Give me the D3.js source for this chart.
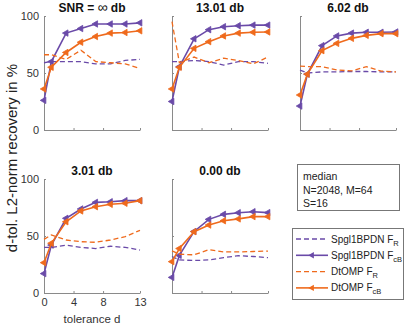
<!DOCTYPE html>
<html><head><meta charset="utf-8">
<script src="https://cdn.jsdelivr.net/npm/d3@7"></script>
<style>body{margin:0;background:#fff}svg{display:block;font-family:"Liberation Sans",Arial,sans-serif}</style>
</head><body><svg id="c" width="407" height="327"></svg>
<script>
const dVals = [0, 1, 3, 5, 7, 9, 11, 13];
const panelTitles = ["SNR = \u221E db", "13.01 db", "6.02 db", "3.01 db", "0.00 db"];
const yTicks = [0, 50, 100];
const xTicks = [0, 4, 8, 13];
// per panel series
const spglFR = [
  [59, 60, 60, 60, 58, 58, 61, 62],
  [60, 60, 61, 60, 57, 60, 60, 58.5],
  [52.6, 50, 51, 51, 51.3, 51.3, 51, 51],
  [40, 40, 42, 40, 39, 41, 40, 37.7],
  [32, 29, 28.5, 29, 31, 32.7, 32, 31]
];
const spglFcB = [
  [26, 60, 85, 89, 93, 93, 93, 94],
  [25, 55.5, 80, 88, 90.6, 91.5, 92, 92],
  [21, 49, 74, 82.5, 85, 85.7, 85.7, 86],
  [17, 42, 65.5, 73.7, 79.5, 80, 81, 81],
  [13.7, 33, 54, 64.6, 69, 70.4, 71.3, 70.5]
];
const ompFR = [
  [66, 66, 62, 70, 60, 59, 58, 54],
  [95, 59, 64, 59, 63, 61, 58, 64],
  [56, 55.6, 55.6, 52.6, 51.8, 55.6, 51.6, 51],
  [47, 51, 46.5, 45, 44.5, 46.5, 49.4, 55],
  [37, 34, 33.5, 38, 36, 36, 36.4, 36.8]
];
const ompFcB = [
  [36, 55, 68, 77, 82, 85, 85.5, 87],
  [36, 55, 71.6, 77.5, 82.5, 85, 85.7, 86],
  [30.7, 49, 69.6, 76, 80.4, 83, 84.5, 84.5],
  [26.6, 43.6, 62.5, 72, 75.7, 77.8, 78.7, 81],
  [27.5, 39, 53.8, 59.6, 63.4, 65, 67, 67]
];
const purple = "#6a4aa8", orange = "#ef6a1c";
const seriesDefs = [
  {name: "Spgl1BPDN F", sub: "R", data: spglFR, color: purple, dashed: true},
  {name: "Spgl1BPDN F", sub: "cB", data: spglFcB, color: purple, dashed: false},
  {name: "DtOMP F", sub: "R", data: ompFR, color: orange, dashed: true},
  {name: "DtOMP F", sub: "cB", data: ompFcB, color: orange, dashed: false}
];
const panels = [
  {x0: 44, x1: 140, y0: 130, y1: 16},
  {x0: 172, x1: 268, y0: 130, y1: 16},
  {x0: 300, x1: 396, y0: 130, y1: 16},
  {x0: 44, x1: 140, y0: 293, y1: 179},
  {x0: 172, x1: 268, y0: 293, y1: 179}
];
const svg = d3.select("#c");
const axisCol = "#8a8a8a", textCol = "#333";
const tri = d3.symbol().type(d3.symbolTriangle).size(18);

panels.forEach((p, i) => {
  const x = d3.scaleLinear().domain([0, 13]).range([p.x0, p.x1]);
  const y = d3.scaleLinear().domain([0, 100]).range([p.y0, p.y1]);
  const g = svg.append("g");
  const ya = g.append("g").attr("transform", `translate(${p.x0},0)`)
    .call(d3.axisLeft(y).tickValues(yTicks).tickSizeInner(-2).tickSizeOuter(0).tickPadding(5)
      .tickFormat(i % 3 === 0 ? d3.format("d") : ""));
  const xa = g.append("g").attr("transform", `translate(0,${p.y0})`)
    .call(d3.axisBottom(x).tickValues(xTicks).tickSizeInner(-2).tickSizeOuter(0).tickPadding(5)
      .tickFormat(i === 3 ? d3.format("d") : ""));
  [ya, xa].forEach(a => {
    a.select(".domain").attr("stroke", axisCol);
    a.selectAll(".tick line").attr("stroke", axisCol);
    a.selectAll("text").attr("fill", textCol).style("font-size", "11px").style("font-family", "Liberation Sans, Arial, sans-serif");
  });
  const title = g.append("text").attr("x", (p.x0 + p.x1) / 2).attr("y", p.y1 - 4)
    .attr("text-anchor", "middle").attr("font-weight", "bold").attr("font-size", "12px")
    .attr("fill", "#111");
  if (panelTitles[i].includes("\u221E")) {
    const parts = panelTitles[i].split("\u221E");
    title.append("tspan").text(parts[0]);
    title.append("tspan").attr("font-size", "14px").attr("font-weight", "normal").text("\u221E");
    title.append("tspan").text(parts[1]);
  } else {
    title.text(panelTitles[i]);
  }
  const line = d3.line().x((v, k) => x(dVals[k])).y(v => y(v));
  seriesDefs.forEach(s => {
    g.append("path").attr("d", line(s.data[i])).attr("fill", "none")
      .attr("stroke", s.color).attr("stroke-width", s.dashed ? 1.3 : 1.6)
      .attr("stroke-dasharray", s.dashed ? "5,3" : null);
    if (!s.dashed) {
      g.selectAll(null).data(s.data[i]).enter().append("path")
        .attr("d", tri).attr("fill", s.color).attr("stroke", s.color).attr("stroke-width", 0.8)
        .attr("transform", (v, k) => `translate(${x(dVals[k])},${y(v)}) rotate(-90)`);
    }
  });
});

svg.append("text").attr("transform", "translate(17,158) rotate(-90)")
  .attr("text-anchor", "middle").attr("font-size", "15px").attr("fill", "#222")
  .text("d-tol. L2-norm recovery in %");
svg.append("text").attr("x", 92).attr("y", 323).attr("text-anchor", "middle")
  .attr("font-size", "11.5px").attr("fill", textCol).text("tolerance d");

svg.append("rect").attr("x", 297.5).attr("y", 164.5).attr("width", 102).attr("height", 46)
  .attr("fill", "#fff").attr("stroke", "#777");
["median", "N=2048, M=64", "S=16"].forEach((t, k) => {
  svg.append("text").attr("x", 303).attr("y", 180 + k * 13.5).attr("font-size", "10.5px")
    .attr("fill", "#222").text(t);
});

svg.append("rect").attr("x", 292.5).attr("y", 228.5).attr("width", 111).attr("height", 71)
  .attr("fill", "#fff").attr("stroke", "#777");
seriesDefs.forEach((s, k) => {
  const ly = 239 + k * 16.3;
  svg.append("line").attr("x1", 296).attr("x2", 328).attr("y1", ly).attr("y2", ly)
    .attr("stroke", s.color).attr("stroke-width", s.dashed ? 1.3 : 1.6)
    .attr("stroke-dasharray", s.dashed ? "5,3" : null);
  if (!s.dashed) {
    svg.append("path").attr("d", tri).attr("fill", s.color)
      .attr("transform", `translate(312,${ly}) rotate(-90)`);
  }
  const t = svg.append("text").attr("x", 331).attr("y", ly + 3.5).attr("font-size", "10px").attr("fill", "#222");
  t.append("tspan").text(s.name);
  t.append("tspan").attr("dy", 3).attr("font-size", "7.5px").text(s.sub);
});
</script></body></html>
